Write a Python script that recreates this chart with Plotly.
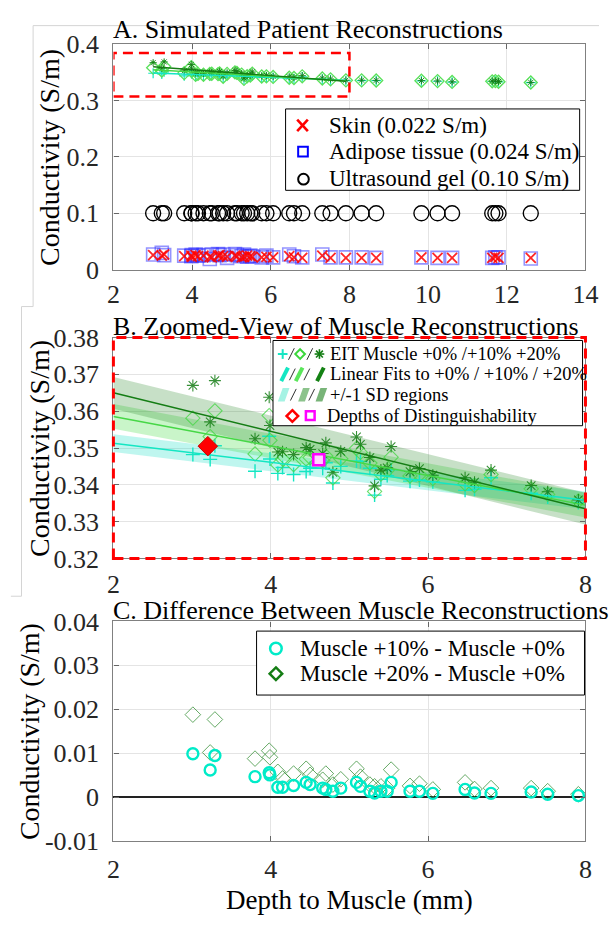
import numpy as np
import plotly.graph_objects as go

FIG_W, FIG_H = 612, 928
SERIF = "Liberation Serif"

# ---------------- data ----------------
depth_mm = [3.01, 3.23, 3.29, 3.80, 3.98, 3.99, 4.09, 4.15, 4.29, 4.45,
            4.50, 4.66, 4.70, 4.79, 4.89, 5.09, 5.14, 5.26, 5.32, 5.40,
            5.48, 5.53, 5.77, 5.89, 6.06, 6.47, 6.59, 6.80, 7.31, 7.52,
            7.91, 8.31, 8.68, 9.83, 10.24, 10.61, 11.63, 11.71, 11.79, 12.61]

muscle_0pct = [0.3482, 0.3469, 0.3506, 0.3437, 0.3532, 0.3470, 0.3431, 0.3447, 0.3428, 0.3436,
               0.3445, 0.3445, 0.3460, 0.3405, 0.3450, 0.3465, 0.3463, 0.3445, 0.3372, 0.3415,
               0.3425, 0.3441, 0.3410, 0.3413, 0.3408, 0.3385, 0.3388, 0.3419, 0.3377, 0.3367,
               0.3352, 0.3352, 0.3350, 0.3346, 0.3340, 0.3326, 0.3336, 0.3340, 0.3330, 0.3316]

muscle_10pct = [0.3581, 0.3531, 0.3601, 0.3484, 0.3588, 0.3521, 0.3454, 0.3470, 0.3455, 0.3470,
                0.3474, 0.3466, 0.3478, 0.3419, 0.3471, 0.3499, 0.3488, 0.3459, 0.3382, 0.3429,
                0.3439, 0.3475, 0.3424, 0.3427, 0.3417, 0.3403, 0.3398, 0.3428, 0.3389, 0.3374,
                0.3356, 0.3356, 0.3353, 0.3349, 0.3343, 0.3328, 0.3339, 0.3342, 0.3332, 0.3318]

muscle_20pct = [0.3670, 0.3571, 0.3683, 0.3525, 0.3638, 0.3561, 0.3489, 0.3490, 0.3482, 0.3501,
                0.3496, 0.3485, 0.3514, 0.3434, 0.3491, 0.3530, 0.3510, 0.3474, 0.3397, 0.3440,
                0.3446, 0.3504, 0.3436, 0.3444, 0.3426, 0.3419, 0.3407, 0.3440, 0.3398, 0.3381,
                0.3359, 0.3360, 0.3357, 0.3352, 0.3346, 0.3331, 0.3342, 0.3345, 0.3335, 0.3320]

skin_cond = [0.026, 0.025, 0.027, 0.024, 0.025, 0.023, 0.026, 0.024, 0.025, 0.023,
             0.022, 0.025, 0.026, 0.024, 0.023, 0.025, 0.024, 0.022, 0.023, 0.025,
             0.024, 0.023, 0.022, 0.023, 0.022, 0.024, 0.022, 0.021, 0.025, 0.021,
             0.021, 0.021, 0.021, 0.022, 0.021, 0.021, 0.021, 0.023, 0.021, 0.021]

adipose_cond = [0.027, 0.030, 0.026, 0.025, 0.024, 0.026, 0.027, 0.025, 0.026, 0.019,
                0.027, 0.028, 0.026, 0.027, 0.021, 0.028, 0.026, 0.024, 0.027, 0.023,
                0.025, 0.024, 0.022, 0.025, 0.022, 0.027, 0.024, 0.022, 0.027, 0.022,
                0.022, 0.022, 0.021, 0.022, 0.021, 0.021, 0.021, 0.022, 0.022, 0.020]

gel_cond = [0.100, 0.100, 0.100, 0.100, 0.100, 0.100, 0.100, 0.100, 0.100, 0.100,
            0.100, 0.100, 0.100, 0.100, 0.100, 0.100, 0.100, 0.100, 0.100, 0.100,
            0.100, 0.100, 0.100, 0.100, 0.100, 0.100, 0.100, 0.100, 0.100, 0.100,
            0.100, 0.100, 0.100, 0.100, 0.100, 0.100, 0.100, 0.100, 0.100, 0.100]

distinguish_depth = [3.20, 4.61]
distinguish_cond = [0.3505, 0.3468]

xticks_a = [2, 4, 6, 8, 10, 12, 14]
yticks_a = [0, 0.1, 0.2, 0.3, 0.4]
yticklabels_a = ["0", "0.1", "0.2", "0.3", "0.4"]
xticks_bc = [2, 4, 6, 8]
yticks_b = [0.32, 0.33, 0.34, 0.35, 0.36, 0.37, 0.38]
yticklabels_b = ["0.32", "0.33", "0.34", "0.35", "0.36", "0.37", "0.38"]
yticks_c = [-0.01, 0, 0.01, 0.02, 0.03, 0.04]
yticklabels_c = ["-0.01", "0", "0.01", "0.02", "0.03", "0.04"]

# ---------------- styling ----------------
CYAN = "rgb(20,230,195)"
LGREEN = "rgb(70,215,70)"
DGREEN = "rgb(20,125,20)"
BAND_CYAN = "rgba(0,220,190,0.25)"
BAND_LGREEN = "rgba(60,220,60,0.28)"
BAND_DGREEN = "rgba(30,130,30,0.25)"
DASH = "10px,6px"


def PX(x):
    return x / FIG_W


def PY(y):
    return 1 - y / FIG_H


X_DOM = [PX(110), PX(598)]
A_DOM = [PY(264), PY(31)]
B_DOM = [PY(562), PY(334)]
C_DOM = [PY(854), PY(627)]


def linear_fit(x, y, upto=8.0):
    x = np.asarray(x, float)
    y = np.asarray(y, float)
    m = x <= upto
    coef = np.polyfit(x[m], y[m], 1)
    resid = y[m] - np.polyval(coef, x[m])
    return coef, resid.std(ddof=2), x[m].min(), x[m].max()


series = [
    (muscle_0pct, CYAN, BAND_CYAN),
    (muscle_10pct, LGREEN, BAND_LGREEN),
    (muscle_20pct, DGREEN, BAND_DGREEN),
]
fits = [linear_fit(depth_mm, s[0]) for s in series]

fig = go.Figure()

# ---------------- panel A ----------------
fig.add_trace(go.Scatter(x=depth_mm, y=gel_cond, mode="markers", xaxis="x", yaxis="y",
                         marker=dict(symbol="circle-open", size=15, color="black", line=dict(width=1.4))))
fig.add_trace(go.Scatter(x=depth_mm, y=adipose_cond, mode="markers", xaxis="x", yaxis="y",
                         marker=dict(symbol="square-open", size=13, color="rgba(40,40,255,0.5)",
                                     line=dict(width=1.6))))
fig.add_trace(go.Scatter(x=depth_mm, y=skin_cond, mode="markers", xaxis="x", yaxis="y",
                         marker=dict(symbol="x-thin-open", size=10, color="rgba(255,0,0,0.85)",
                                     line=dict(width=1.8))))
fig.add_trace(go.Scatter(x=depth_mm, y=muscle_0pct, mode="markers", xaxis="x", yaxis="y",
                         marker=dict(symbol="cross-thin-open", size=7, color=CYAN, line=dict(width=1.2))))
fig.add_trace(go.Scatter(x=depth_mm, y=muscle_10pct, mode="markers", xaxis="x", yaxis="y",
                         marker=dict(symbol="diamond-open", size=10, color="rgb(90,225,90)",
                                     line=dict(width=1.3))))
fig.add_trace(go.Scatter(x=depth_mm, y=muscle_20pct, mode="markers", xaxis="x", yaxis="y",
                         marker=dict(symbol="asterisk-open", size=6, color=DGREEN, line=dict(width=0.9))))
for (vals, col, _), (coef, sd, lo, hi) in zip(series, fits):
    xs = np.linspace(lo, hi, 20)
    fig.add_trace(go.Scatter(x=xs, y=np.polyval(coef, xs), mode="lines", xaxis="x", yaxis="y",
                             line=dict(color=col, width=1.4)))

# ---------------- panel B ----------------
grid = np.linspace(2, 8, 61)
for (vals, col, band), (coef, sd, lo, hi) in zip(series, fits):
    fv = np.polyval(coef, grid)
    fig.add_trace(go.Scatter(x=np.concatenate([grid, grid[::-1]]),
                             y=np.concatenate([fv + sd, (fv - sd)[::-1]]),
                             fill="toself", fillcolor=band, line=dict(width=0),
                             mode="lines", xaxis="x2", yaxis="y2", hoverinfo="skip"))
fig.add_trace(go.Scatter(x=depth_mm, y=muscle_0pct, mode="markers", xaxis="x2", yaxis="y2",
                         marker=dict(symbol="cross-thin-open", size=10, color=CYAN, line=dict(width=1.4))))
fig.add_trace(go.Scatter(x=depth_mm, y=muscle_10pct, mode="markers", xaxis="x2", yaxis="y2",
                         marker=dict(symbol="diamond-open", size=11, color=LGREEN, opacity=0.8,
                                     line=dict(width=1.1))))
fig.add_trace(go.Scatter(x=depth_mm, y=muscle_20pct, mode="markers", xaxis="x2", yaxis="y2",
                         marker=dict(symbol="asterisk-open", size=10, color=DGREEN, opacity=0.85,
                                     line=dict(width=1.1))))
for (vals, col, _), (coef, sd, lo, hi) in zip(series, fits):
    fig.add_trace(go.Scatter(x=grid, y=np.polyval(coef, grid), mode="lines", xaxis="x2", yaxis="y2",
                             line=dict(color=col, width=1.5)))
fig.add_trace(go.Scatter(x=distinguish_depth[:1], y=distinguish_cond[:1], mode="markers",
                         xaxis="x2", yaxis="y2",
                         marker=dict(symbol="diamond", size=15, color="red",
                                     line=dict(color="rgb(200,0,0)", width=1))))
fig.add_trace(go.Scatter(x=distinguish_depth[1:], y=distinguish_cond[1:], mode="markers",
                         xaxis="x2", yaxis="y2",
                         marker=dict(symbol="square", size=11, color="rgb(255,210,255)",
                                     line=dict(color="magenta", width=2.6))))

# ---------------- panel C ----------------
diff_10 = np.subtract(muscle_10pct, muscle_0pct)
diff_20 = np.subtract(muscle_20pct, muscle_0pct)
fig.add_trace(go.Scatter(x=depth_mm, y=diff_20, mode="markers", xaxis="x3", yaxis="y3",
                         marker=dict(symbol="diamond-open", size=12, color="rgba(50,140,50,0.75)",
                                     line=dict(width=1))))
fig.add_trace(go.Scatter(x=depth_mm, y=diff_10, mode="markers", xaxis="x3", yaxis="y3",
                         marker=dict(symbol="circle-open", size=11, color="rgb(0,235,200)",
                                     line=dict(width=2.4))))

# ---------------- axes ----------------
tickfont = dict(family=SERIF, size=26, color="#262626")


def axis(domain, rng, tickvals, ticktext=None, anchor=None, **kw):
    d = dict(domain=domain, range=rng, tickvals=tickvals, ticks="inside", ticklen=5,
             tickcolor="#666", showline=True, linecolor="#808080", linewidth=1.3,
             mirror="allticks", showgrid=True, gridcolor="#e4e4e4", gridwidth=1,
             zeroline=False, tickfont=tickfont, ticklabelstandoff=8, anchor=anchor,
             fixedrange=True)
    if ticktext is not None:
        d["ticktext"] = ticktext
    d.update(kw)
    return d


layout = dict(
    width=FIG_W, height=FIG_H, margin=dict(l=0, r=0, t=0, b=0),
    paper_bgcolor="white", plot_bgcolor="white", showlegend=False,
    font=dict(family=SERIF, color="black"),
    xaxis=axis(X_DOM, [2, 14], xticks_a, anchor="y", ticklabelstandoff=1),
    yaxis=axis(A_DOM, [0, 0.4], yticks_a, yticklabels_a, anchor="x"),
    xaxis2=axis(X_DOM, [2, 8], xticks_bc, anchor="y2", ticklabelstandoff=2),
    yaxis2=axis(B_DOM, [0.32, 0.38], yticks_b, yticklabels_b, anchor="x2"),
    xaxis3=axis(X_DOM, [2, 8], xticks_bc, anchor="y3", ticklabelstandoff=4),
    yaxis3=axis(C_DOM, [-0.01, 0.04], yticks_c, yticklabels_c, anchor="x3",
                zeroline=True, zerolinecolor="#222", zerolinewidth=2),
)
fig.update_layout(**layout)

# ---------------- text ----------------
ann = []


def text(x, y, s, size, anchor="left", angle=0, color="black"):
    ann.append(dict(x=PX(x), y=PY(y), xref="paper", yref="paper", text=s, showarrow=False,
                    xanchor=anchor, yanchor="middle", textangle=angle,
                    font=dict(family=SERIF, size=size, color=color)))


text(107, 16, "A. Simulated Patient Reconstructions", 26)
text(107, 323, "B. Zoomed-View of Muscle Reconstructions", 26)
text(107, 616, "C. Difference Between Muscle Reconstructions", 26)
text(44, 148, "Conductivity (S/m)", 28, anchor="center", angle=-90)
text(33, 448, "Conductivity (S/m)", 28, anchor="center", angle=-90)
text(24, 741, "Conductivity (S/m)", 28, anchor="center", angle=-90)
text(354, 915, "Depth to Muscle (mm)", 27, anchor="center")

# legend A
text(331, 115, "Skin (0.022 S/m)", 23)
text(331, 142, "Adipose tissue (0.024 S/m)", 23)
text(331, 170, "Ultrasound gel (0.10 S/m)", 23)
# legend B
text(332, 351, "EIT Muscle +0% /+10% +20%", 18.5)
text(332, 372, "Linear Fits to +0% / +10% / +20%", 18.5)
text(332, 393, "+/-1 SD regions", 18.5)
text(329, 415, "Depths of Distinguishability", 18.5)
# legend C
text(301, 655, "Muscle +10% - Muscle +0%", 23)
text(301, 681, "Muscle +20% - Muscle +0%", 23)

# ---------------- shapes ----------------
shapes = []


def seg(x0, y0, x1, y1, color, width):
    shapes.append(dict(type="line", xref="paper", yref="paper", x0=PX(x0), y0=PY(y0),
                       x1=PX(x1), y1=PY(y1), line=dict(color=color, width=width), layer="above"))


def box(x0, y0, x1, y1, line="black", fill="white", width=1, kind="rect"):
    shapes.append(dict(type=kind, xref="paper", yref="paper", x0=PX(x0), y0=PY(y1),
                       x1=PX(x1), y1=PY(y0), line=dict(color=line, width=width),
                       fillcolor=fill, layer="above"))


def poly(pts, line, fill, width):
    p = "M " + " L ".join(f"{PX(a):.5f},{PY(b):.5f}" for a, b in pts) + " Z"
    shapes.append(dict(type="path", xref="paper", yref="paper", path=p,
                       line=dict(color=line, width=width), fillcolor=fill, layer="above"))


def diamond(cx, cy, h, line, width, fill="rgba(0,0,0,0)"):
    poly([(cx, cy - h), (cx + h, cy), (cx, cy + h), (cx - h, cy)], line, fill, width)


def slash(xc, yc, color, width, half=7, lean=3.5):
    seg(xc - lean, yc + half, xc + lean, yc - half, color, width)


# faint outer frames of the composite
FRAME = "#d4d4d4"
seg(27, 12, 612, 12, FRAME, 1)
seg(27, 12, 27, 302, FRAME, 1)
seg(15, 302, 27, 302, FRAME, 1)
seg(15, 302, 15, 601, FRAME, 1)
seg(4, 601, 15, 601, FRAME, 1)

# zoom region in panel A and frame of panel B
shapes.append(dict(type="rect", xref="x", yref="y", x0=2, x1=8, y0=0.307, y1=0.384,
                   line=dict(color="red", width=2.5, dash=DASH), layer="above"))
shapes.append(dict(type="rect", xref="x2 domain", yref="y2 domain", x0=0, x1=1, y0=0, y1=1,
                   line=dict(color="red", width=3, dash=DASH), layer="above"))

# legend A
box(288, 98, 592, 182)
seg(300, 109, 311, 121, "red", 2.6)
seg(300, 121, 311, 109, "red", 2.6)
box(301, 137, 311, 147, line="blue", fill="rgba(0,0,0,0)", width=2)
box(301, 165, 312, 176, line="black", fill="rgba(0,0,0,0)", width=2, kind="circle")

# legend B
box(275, 337, 595, 425)
seg(280, 351, 290, 351, CYAN, 2)
seg(285, 346, 285, 356, CYAN, 2)
slash(294, 351, "#333", 1, half=6, lean=3)
diamond(303, 351, 5, "rgb(60,215,60)", 2)
slash(313, 351, "#333", 1, half=6, lean=3)
for ang in (0, 45, 90, 135):
    r = np.deg2rad(ang)
    dx, dy = 5 * np.cos(r), 5 * np.sin(r)
    seg(323 - dx, 351 - dy, 323 + dx, 351 + dy, DGREEN, 1.6)
slash(287, 372, "rgb(20,230,195)", 4)
slash(295, 372, "#333", 1, half=6, lean=3)
slash(302, 372, "rgb(90,230,90)", 4)
slash(310, 372, "#333", 1, half=6, lean=3)
slash(324, 372, "rgb(20,130,20)", 4)
poly([(280, 400), (287, 400), (292, 386), (285, 386)], "rgba(0,0,0,0)", "rgb(165,243,228)", 0)
slash(296, 393, "#333", 1, half=6, lean=3)
poly([(301, 400), (308, 400), (313, 386), (306, 386)], "rgba(0,0,0,0)", "rgb(140,195,140)", 0)
slash(315, 393, "#333", 1, half=6, lean=3)
poly([(319, 400), (326, 400), (331, 386), (324, 386)], "rgba(0,0,0,0)", "rgb(120,180,120)", 0)
diamond(295, 415, 6, "red", 2.5)
box(309, 410, 318, 419, line="magenta", fill="rgba(0,0,0,0)", width=2.5)

# legend C
box(258, 637, 597, 703)
box(272, 649, 284, 661, line="rgb(0,235,200)", fill="rgba(0,0,0,0)", width=2.5, kind="circle")
diamond(278, 681, 6.5, "rgb(20,125,20)", 2.5)

fig.update_layout(annotations=ann, shapes=shapes)
fig.write_html("out.html")
